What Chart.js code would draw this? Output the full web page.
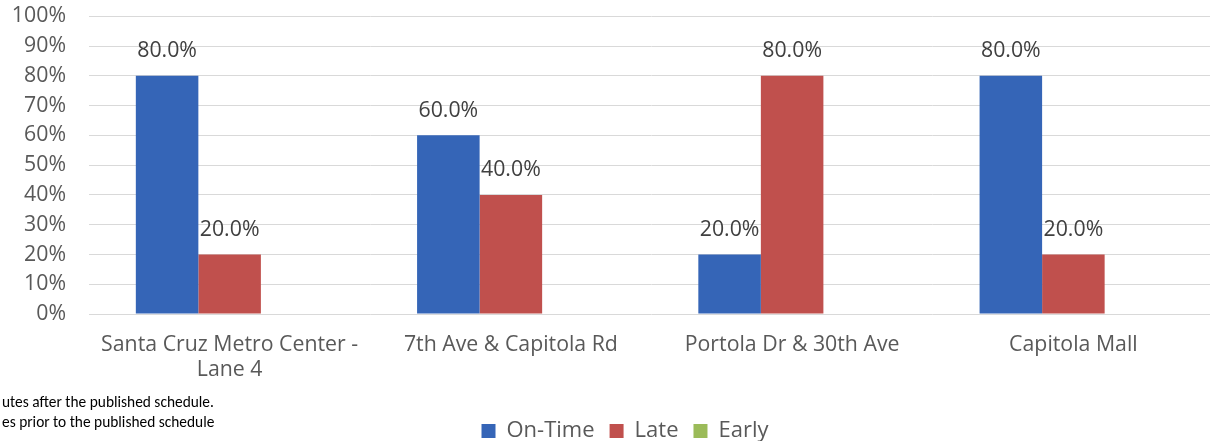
<!DOCTYPE html>
<html>
<head>
<meta charset="utf-8">
<script src="https://cdn.jsdelivr.net/npm/chart.js@4/dist/chart.umd.min.js"></script>
<style>
  html, body { margin: 0; padding: 0; background: #fff; overflow: hidden; }
  #wrap { position: relative; width: 1210px; height: 441px; overflow: hidden; }
  #box { position: absolute; left: 0; top: -19px; width: 1250px; height: 471px; }
  .note { position: absolute; left: 2px; font-family: Carlito, Lato, sans-serif; font-size: 15.4px; color: #000; white-space: nowrap; }
</style>
</head>
<body>
<div id="wrap">
  <div id="box"><canvas id="c" width="1250" height="471"></canvas></div>
  <div class="note" style="top:392px">utes after the published schedule.</div>
  <div class="note" style="top:412px">es prior to the published schedule</div>
</div>
<script>
const categories = [["Santa Cruz Metro Center -", "Lane 4"], "7th Ave & Capitola Rd", "Portola Dr & 30th Ave", "Capitola Mall"];
const seriesNames = ["On-Time", "Late", "Early"];
const onTime = [80, 60, 20, 80];
const late = [20, 40, 80, 20];
const early = [0, 0, 0, 0];
const yMin = 0, yMax = 100, yStep = 10;

const FONT = "'Open Sans', sans-serif";
const FS = 21.3;

const dataLabels = {
  id: 'dataLabels',
  afterDatasetsDraw(chart) {
    const ctx = chart.ctx;
    ctx.save();
    ctx.font = FS + "px " + FONT;
    ctx.fillStyle = "#404040";
    ctx.textAlign = "center";
    ctx.textBaseline = "alphabetic";
    chart.data.datasets.forEach((ds, i) => {
      const meta = chart.getDatasetMeta(i);
      meta.data.forEach((bar, j) => {
        const v = ds.data[j];
        if (v > 0) ctx.fillText(v.toFixed(1) + "%", bar.x, bar.y - 18.5);
      });
    });
    ctx.restore();
  }
};

new Chart(document.getElementById('c'), {
  type: 'bar',
  data: {
    labels: categories,
    datasets: [
      { label: seriesNames[0], data: onTime, backgroundColor: '#3565B7', yAxisID: 'y' },
      { label: seriesNames[1], data: late, backgroundColor: '#C0504D', yAxisID: 'y' },
      { label: seriesNames[2], data: early, backgroundColor: '#9BBB59', yAxisID: 'y' }
    ]
  },
  options: {
    responsive: false,
    animation: false,
    devicePixelRatio: 1,
    layout: { padding: 0 },
    datasets: { bar: { categoryPercentage: 0.667, barPercentage: 1.0 } },
    plugins: {
      legend: {
        position: 'bottom',
        labels: { font: { family: FONT, size: 22 }, color: '#595959', boxWidth: 14, boxHeight: 14, padding: 15 }
      },
      tooltip: { enabled: false }
    },
    scales: {
      x: {
        grid: { display: false, drawTicks: false },
        border: { display: false },
        ticks: { font: { family: FONT, size: FS, lineHeight: 1.15 }, color: '#595959', padding: 19, maxRotation: 0, autoSkip: false },
        afterFit(s) { s.height = 91; }
      },
      y: {
        min: yMin, max: yMax,
        grid: { color: '#d9d9d9', lineWidth: 1, drawTicks: false },
        border: { display: false },
        ticks: { stepSize: yStep, font: { family: FONT, size: FS, lineHeight: 1.15 }, color: '#595959', padding: 23, callback: v => v + '%' },
        afterFit(s) { s.width = 89; }
      },
      yRightSpace: {
        type: 'linear',
        position: 'right',
        display: true,
        min: yMin, max: yMax,
        grid: { display: false, drawTicks: false },
        border: { display: false },
        ticks: { display: false },
        afterFit(s) { s.width = 36; }
      }
    }
  },
  plugins: [dataLabels]
});
</script>
</body>
</html>
